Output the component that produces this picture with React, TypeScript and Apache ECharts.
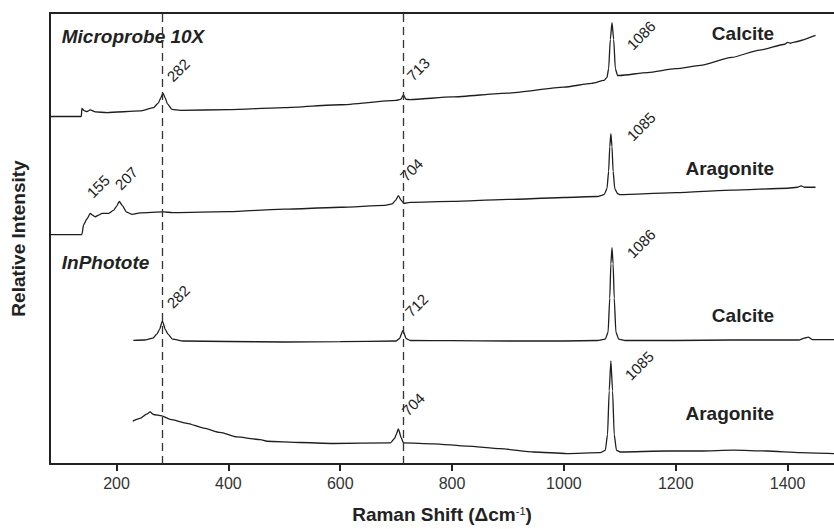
import React, { useEffect, useRef } from 'react';
import * as echarts from 'echarts';

const FONT = '"Liberation Sans", Arial, Helvetica, sans-serif';

const xTicks = [200, 400, 600, 800, 1000, 1200, 1400];
const markerLines = [282, 713];

// Raman shift (cm-1), relative intensity (arbitrary units, stacked with offsets)
const microCalcite: [number, number][] = [
  [81, 356], [137, 356], [138, 364.3], [142, 362], [147, 361], [153, 362.7], [162, 360.7], [183, 360],
  [242, 361.7], [266, 365], [275, 370], [279, 375], [283, 380], [287, 375], [291, 369], [299, 363.3],
  [314, 362.3], [400, 363], [500, 365], [600, 368], [700, 372.5], [708, 373.5], [713, 378], [718, 373.5],
  [725, 373.3], [800, 376], [900, 380], [1000, 386], [1050, 390], [1072, 393], [1077, 396], [1080, 405],
  [1083, 435], [1086, 452], [1089, 435], [1092, 405], [1096, 398], [1100, 398], [1150, 401], [1200, 405],
  [1244, 408.3], [1300, 416.5], [1350, 424], [1395, 430], [1400, 432], [1405, 431], [1410, 432], [1450, 439],
];

const microAragonite: [number, number][] = [
  [81, 235], [138, 235], [141, 245], [147, 251], [153, 256.7], [157, 255], [162, 253.3], [168, 255],
  [174, 256.7], [186, 256.7], [195, 260], [200, 264], [205, 269], [210, 265], [218, 258], [228, 255.7],
  [242, 257.3], [284, 258.3], [300, 257.5], [400, 258.5], [500, 261], [600, 263], [680, 265], [693, 266.5],
  [699, 270], [704, 275], [709, 270], [714, 267], [725, 268], [800, 269], [900, 271], [1000, 273],
  [1060, 274], [1072, 276], [1077, 282], [1080, 300], [1082, 325], [1084, 338.3], [1086, 325], [1088, 300],
  [1091, 282], [1096, 277], [1100, 276], [1200, 278], [1300, 280.5], [1400, 282.5], [1418, 283.5],
  [1424, 285], [1430, 283.5], [1450, 283.5],
];

const inCalcite: [number, number][] = [
  [230, 126.7], [250, 127], [265, 129], [272, 133], [277, 138], [282, 146.7], [287, 138], [292, 133],
  [300, 128], [320, 126], [400, 125.5], [500, 125], [600, 125.3], [700, 126], [706, 128.5], [712, 136.7],
  [718, 128.5], [725, 126.5], [800, 126.3], [900, 126], [1000, 126], [1060, 126.5], [1074, 128], [1079, 135],
  [1082, 170], [1084, 205], [1086, 221.5], [1088, 205], [1090, 170], [1093, 135], [1098, 128], [1110, 126.5],
  [1200, 126.5], [1300, 127], [1420, 127], [1430, 129], [1437, 130], [1444, 127.5], [1483, 127.5],
];

const inAragonite: [number, number][] = [
  [229, 44], [242, 46.7], [254, 51], [260, 53.3], [266, 50.7], [281, 49.3], [296, 45.7], [326, 41.7],
  [356, 36.7], [385, 32.3], [415, 27.7], [457, 25], [469, 23.3], [528, 22], [588, 21], [690, 21.7],
  [697, 26], [700, 30], [704, 36], [709, 27], [713, 21.7], [767, 20.7], [827, 18.3], [886, 15.7],
  [946, 12.3], [1005, 10.7], [1065, 11.7], [1074, 14], [1078, 30], [1081, 75], [1084, 105.7], [1087, 75],
  [1090, 30], [1094, 14], [1101, 12.3], [1184, 13.3], [1244, 13.3], [1303, 14.3], [1363, 13.3],
  [1423, 11.7], [1483, 10.7],
];

const peakLabels = ['282', '713', '1086', '1085', '155', '207', '704', '282', '712', '1086', '1085', '704'];
const peakLabelX = [303.7, 733, 1126.3, 1126.3, 160.7, 211, 721, 303.7, 730, 1126.3, 1123, 724];
const peakLabelY = [389, 390, 421.7, 328.3, 270, 278.3, 287, 157, 148, 208.3, 83.3, 46.7];

const sectionLabels = ['Microprobe 10X', 'Calcite', 'Aragonite', 'InPhotote', 'Calcite', 'Aragonite'];
const sectionX = [102, 1376, 1376, 102, 1376, 1376];
const sectionY = [437.5, 441, 303, 206.5, 152, 51.7];
const sectionItalic = [true, false, false, true, false, false];

export default function App() {
  const ref = useRef<HTMLDivElement>(null);
  useEffect(() => {
    document.body.style.margin = '0';
    const chart = echarts.init(ref.current!, null, { renderer: 'svg' });
    const axisLineStyle = { color: '#222', width: 2 };
    const lineSeries = (name: string, data: [number, number][]) => ({
      type: 'line',
      name,
      data,
      showSymbol: false,
      symbol: 'none',
      smooth: 0.2,
      smoothMonotone: 'x',
      silent: true,
      z: 3,
      lineStyle: { color: '#1e1e1e', width: 1.3 },
    });
    chart.setOption({
      animation: false,
      grid: { left: 50, right: 0, top: 13, bottom: 54 },
      xAxis: [
        {
          type: 'value',
          min: 81,
          max: 1483,
          position: 'bottom',
          axisLine: { show: true, onZero: false, lineStyle: axisLineStyle },
          axisTick: { show: true, inside: false, length: 7, customValues: xTicks, lineStyle: axisLineStyle },
          axisLabel: {
            customValues: xTicks,
            formatter: (v: number) => String(v),
            fontSize: 16,
            color: '#333',
            margin: 11,
            fontFamily: FONT,
          },
          splitLine: { show: false },
          name: '{a|Raman Shift (Δcm}{b|-1}{a|)}',
          nameLocation: 'middle',
          nameGap: 41,
          nameTextStyle: {
            rich: {
              a: { fontSize: 19, fontWeight: 'bold', color: '#222', fontFamily: FONT },
              b: { fontSize: 11, color: '#222', fontFamily: FONT, verticalAlign: 'top' },
            },
          },
        },
        {
          type: 'value',
          min: 81,
          max: 1483,
          position: 'top',
          axisLine: { show: true, onZero: false, lineStyle: axisLineStyle },
          axisTick: { show: false },
          axisLabel: { show: false },
          splitLine: { show: false },
        },
      ],
      yAxis: {
        type: 'value',
        min: 0,
        max: 462,
        axisLine: { show: true, onZero: false, lineStyle: axisLineStyle },
        axisTick: { show: false },
        axisLabel: { show: false },
        splitLine: { show: false },
        name: 'Relative Intensity',
        nameLocation: 'middle',
        nameGap: 22,
        nameTextStyle: { fontSize: 19, fontWeight: 'bold', color: '#222', fontFamily: FONT },
      },
      series: [
        lineSeries('Microprobe Calcite', microCalcite),
        lineSeries('Microprobe Aragonite', microAragonite),
        lineSeries('InPhotote Calcite', inCalcite),
        lineSeries('InPhotote Aragonite', inAragonite),
        {
          type: 'line',
          data: [],
          markLine: {
            silent: true,
            symbol: 'none',
            animation: false,
            label: { show: false },
            lineStyle: { type: [8, 5], color: '#333', width: 1.3 },
            data: markerLines.map((x) => ({ xAxis: x })),
          },
        },
      ],
    });

    const graphics: any[] = [];
    peakLabels.forEach((t, i) => {
      const p = chart.convertToPixel({ seriesIndex: 0 }, [peakLabelX[i], peakLabelY[i]]) as number[];
      graphics.push({
        type: 'text',
        x: p[0],
        y: p[1],
        rotation: Math.PI / 4,
        silent: true,
        style: {
          text: t,
          fontSize: 15,
          fontFamily: FONT,
          fill: '#222',
          textAlign: 'left',
          textVerticalAlign: 'bottom',
        },
      });
    });
    sectionLabels.forEach((t, i) => {
      const p = chart.convertToPixel({ seriesIndex: 0 }, [sectionX[i], sectionY[i]]) as number[];
      graphics.push({
        type: 'text',
        x: p[0],
        y: p[1],
        silent: true,
        style: {
          text: t,
          fontSize: 19,
          fontWeight: 'bold',
          fontStyle: sectionItalic[i] ? 'italic' : 'normal',
          fontFamily: FONT,
          fill: '#222',
          textAlign: sectionItalic[i] ? 'left' : 'right',
          textVerticalAlign: 'middle',
        },
      });
    });
    chart.setOption({ graphic: graphics });

    return () => chart.dispose();
  }, []);
  return <div ref={ref} style={{ width: 834, height: 529 }} />;
}
